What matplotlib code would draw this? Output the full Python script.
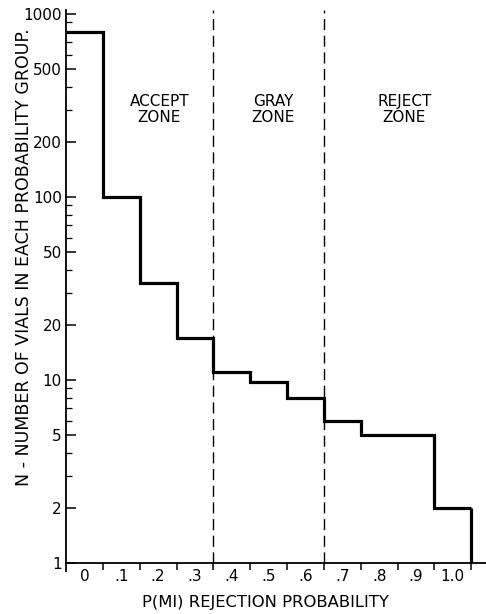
import matplotlib.pyplot as plt
import numpy as np
from matplotlib.ticker import FixedLocator, NullFormatter

plt.rcParams['font.family'] = 'DejaVu Sans'

# Vials per rejection-probability group
prob_groups = [0.0, 0.1, 0.2, 0.3, 0.4, 0.5, 0.6, 0.7, 0.8, 0.9, 1.0]
n_vials = [800, 100, 34, 17, 11, 9.7, 8, 6, 5, 5, 2]
group_labels = ['0', '.1', '.2', '.3', '.4', '.5', '.6', '.7', '.8', '.9', '1.0']

# Zone boundaries and names
zone_edges = [0.35, 0.65]
zone_names = ['ACCEPT\nZONE', 'GRAY\nZONE', 'REJECT\nZONE']
zone_centers = [0.203, 0.512, 0.868]

y_major = [1, 2, 5, 10, 20, 50, 100, 200, 500, 1000]
y_major_labels = ['1', '2', '5', '10', '20', '50', '100', '200', '500', '1000']

width = 0.1
edges = np.append(np.array(prob_groups) - width / 2, prob_groups[-1] + width / 2)

fig = plt.figure(figsize=(4.86, 6.14), dpi=100)
ax = fig.add_axes([66 / 486, 51 / 614, 420 / 486, 553 / 614])

ax.set_yscale('log')
ax.set_xlim(edges[0], 1.09)
ax.set_ylim(1, 10 ** (553 / 183))

# histogram outline
ax.stairs(n_vials, edges, baseline=None, color='black', linewidth=2.3)
ax.vlines(edges[-1], 1, n_vials[-1], color='black', linewidth=2.3)

# zone separators
for xz in zone_edges:
    ax.axvline(xz, color='black', linewidth=1.0, linestyle=(0, (8, 4)))

for xc, name in zip(zone_centers, zone_names):
    ax.text(xc, 0.82, name, transform=ax.get_xaxis_transform(), ha='center',
            va='center', fontsize=11, linespacing=1.1)

# spines
for side in ['top', 'right']:
    ax.spines[side].set_visible(False)
ax.spines['left'].set_linewidth(1.3)
ax.spines['bottom'].set_linewidth(1.3)
ax.plot([edges[0], edges[0]], [1, 0.9], color='black', linewidth=1.3, clip_on=False)

# y ticks
ax.yaxis.set_major_locator(FixedLocator(y_major))
ax.set_yticklabels(y_major_labels)
minor = [m * d for d in [1, 10, 100] for m in range(2, 10) if m * d not in y_major]
ax.yaxis.set_minor_locator(FixedLocator(minor))
ax.yaxis.set_minor_formatter(NullFormatter())
ax.tick_params(axis='y', which='major', direction='in', length=7, width=1.1,
               labelsize=11, pad=3)
ax.tick_params(axis='y', which='minor', direction='in', length=4, width=0.9)

# x ticks: marks at bin edges, labels at bin centers
ax.xaxis.set_major_locator(FixedLocator(edges[1:]))
ax.xaxis.set_major_formatter(NullFormatter())
ax.xaxis.set_minor_locator(FixedLocator(prob_groups))
ax.set_xticklabels(group_labels, minor=True)
ax.tick_params(axis='x', which='major', direction='out', length=5, width=1.1)
ax.tick_params(axis='x', which='minor', length=0, labelsize=11, pad=4)

fig.text(24 / 486, 1 - 257 / 614, 'N - NUMBER OF VIALS IN EACH PROBABILITY GROUP.',
         rotation=90, ha='center', va='center', fontsize=12.5)
fig.text(265 / 486, 1 - 603 / 614, 'P(MI) REJECTION PROBABILITY',
         ha='center', va='center', fontsize=11.8)

plt.savefig('out.png', dpi=100)
